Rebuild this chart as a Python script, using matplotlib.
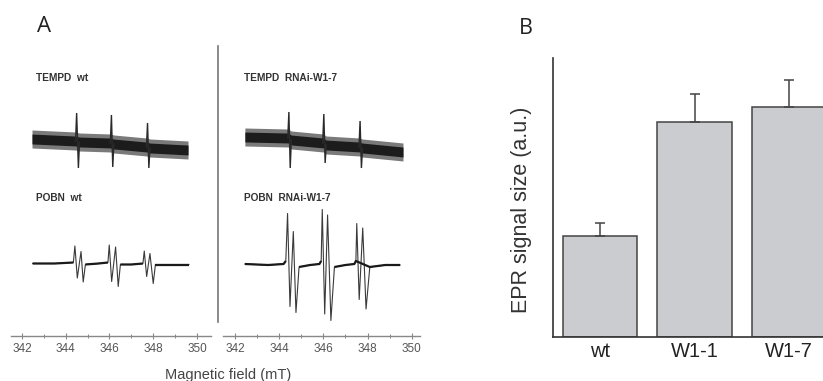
import numpy as np
import matplotlib
matplotlib.use("Agg")
import matplotlib.pyplot as plt
from matplotlib.lines import Line2D
from matplotlib.ticker import MultipleLocator

# ---------------- Panel A data (field in mT, signal in a.u. relative to trace start) -------------
tempd_wt_base_field = [342.46, 344.45, 344.62, 346.05, 346.20, 347.70, 347.85, 349.59]
tempd_wt_base_value = [0, -2, -3, -4, -5, -8, -9, -11]
tempd_wt_line_field = [344.50, 344.58, 346.09, 346.15, 347.74, 347.80]
tempd_wt_line_value = [26, -29, 24, -28, 16, -29]

tempd_rnai_base_field = [342.45, 344.40, 344.55, 346.00, 346.12, 347.64, 347.76, 349.60]
tempd_rnai_base_value = [0, -1, -3, -6, -8, -10, -11, -15]
tempd_rnai_line_field = [344.44, 344.50, 346.02, 346.08, 347.66, 347.72]
tempd_rnai_line_value = [25, -31, 23, -26, 16, -31]

tempd_noise = 9  # half-width of the noise envelope

pobn_wt_base_field = [342.49, 343.5, 344.35, 344.90, 345.50, 345.93, 346.50, 347.0,
                      347.53, 348.10, 348.9, 349.63]
pobn_wt_base_value = [0, 0, 1, -1, 0, 1, -1, -1, 0, -1, -1, -1]
pobn_wt_line_field = [344.42, 344.53, 344.70, 344.80, 345.99, 346.10, 346.28, 346.40,
                      347.59, 347.70, 347.85, 348.00]
pobn_wt_line_value = [17.5, -14.5, 12, -18.5, 18.5, -18, 16.5, -23, 12.5, -13, 10, -20]

pobn_rnai_base_field = [342.45, 343.5, 344.20, 344.30, 344.90, 345.40, 345.82, 345.90,
                        346.50, 347.0, 347.40, 347.47, 348.10, 348.8, 349.47]
pobn_rnai_base_value = [0, -1, 0, 3, -3, -1, 0, 3, -3, -1, 0, 3, -3, -1, -1]
pobn_rnai_line_field = [344.38, 344.49, 344.64, 344.76, 345.95, 346.06, 346.19, 346.34,
                        347.51, 347.62, 347.78, 347.93]
pobn_rnai_line_value = [50.5, -42.5, 32.5, -48.5, 54.5, -50, 49, -56.5, 40.5, -35.5, 36, -45]

trace_labels = ["TEMPD  wt", "TEMPD  RNAi-W1-7", "POBN  wt", "POBN  RNAi-W1-7"]
field_ticks = [342, 344, 346, 348, 350]
x_label = "Magnetic field (mT)"

# ---------------- Panel B data ----------------
bar_categories = ["wt", "W1-1", "W1-7"]
bar_values = [1.00, 2.13, 2.28]
bar_errors = [0.13, 0.28, 0.275]
y_label = "EPR signal size (a.u.)"

# ---------------- figure ----------------
W, H = 823, 381
fig = plt.figure(figsize=(W / 100, H / 100), dpi=100)
plt.rcParams['font.family'] = ['Liberation Sans', 'DejaVu Sans']


def rect(x0, y_top, x1, y_bot):
    return [x0 / W, 1 - y_bot / H, (x1 - x0) / W, (y_bot - y_top) / H]


def fx(x):
    return x / W


def fy(y):
    return 1 - y / H


axL = fig.add_axes(rect(11, 40, 211, 336))
axR = fig.add_axes(rect(223, 40, 420, 336))
axL.set_xlim(341.5, 350.64)
axR.set_xlim(341.46, 350.37)

TRACE = '#1a1a1a'


def draw_tempd(ax, bf, bv, lf, lv, off):
    bf = np.array(bf); bv = np.array(bv) + off
    ax.fill_between(bf, bv - tempd_noise, bv + tempd_noise, color='#7a7a7a', lw=0)
    ax.fill_between(bf, bv - tempd_noise * 0.55, bv + tempd_noise * 0.55, color='#1c1c1c', lw=0)
    for i in range(0, len(lf), 2):
        fu, fd = lf[i], lf[i + 1]
        b0 = np.interp(fu - 0.05, bf, bv)
        b1 = np.interp(fd + 0.05, bf, bv)
        ax.plot([fu - 0.05, fu, fd, fd + 0.05], [b0, lv[i] + off, lv[i + 1] + off, b1],
                color='#2a2a2a', lw=1.0, solid_joinstyle='miter')


def draw_pobn(ax, bf, bv, lf, lv, off):
    pts = sorted(list(zip(bf, bv)) + list(zip(lf, lv)))
    ax.plot([p[0] for p in pts], [p[1] + off for p in pts], color='#3a3a3a', lw=0.8)
    ranges = [(lf[i] - 0.04, lf[i + 3] + 0.06) for i in range(0, len(lf), 4)]
    seg = []
    segs = []
    for f, v in zip(bf, bv):
        if seg and any(seg[-1][0] < r[0] and f > r[1] for r in ranges):
            segs.append(seg)
            seg = []
        seg.append((f, v))
    segs.append(seg)
    for s in segs:
        ax.plot([p[0] for p in s], [p[1] + off for p in s], color=TRACE, lw=1.6,
                solid_capstyle='butt')


for ax in (axL, axR):
    ax.set_ylim(0, 296)
    for sp in ('top', 'left', 'right'):
        ax.spines[sp].set_visible(False)
    ax.spines['bottom'].set_color('#888888')
    ax.spines['bottom'].set_linewidth(1.0)
    ax.set_yticks([])
    ax.set_xticks(field_ticks)
    ax.set_xticklabels([str(t) for t in field_ticks])
    ax.xaxis.set_minor_locator(MultipleLocator(1))
    ax.tick_params(axis='x', which='major', direction='inout', length=4, width=0.8,
                   color='#888888', labelcolor='#555555', labelsize=8.5, pad=3)
    ax.tick_params(axis='x', which='minor', direction='inout', length=2.5, width=0.7,
                   color='#888888')
    ax.patch.set_alpha(0)

draw_tempd(axL, tempd_wt_base_field, tempd_wt_base_value,
           tempd_wt_line_field, tempd_wt_line_value, 197)
draw_tempd(axR, tempd_rnai_base_field, tempd_rnai_base_value,
           tempd_rnai_line_field, tempd_rnai_line_value, 199)
draw_pobn(axL, pobn_wt_base_field, pobn_wt_base_value,
          pobn_wt_line_field, pobn_wt_line_value, 72.5)
draw_pobn(axR, pobn_rnai_base_field, pobn_rnai_base_value,
          pobn_rnai_line_field, pobn_rnai_line_value, 72)

# trace labels
lab_kw = dict(fontsize=7.3, fontweight='bold', color='#333333', va='center', ha='left')
fig.text(fx(36), fy(78), trace_labels[0], **lab_kw)
fig.text(fx(244), fy(78), trace_labels[1], **lab_kw)
fig.text(fx(36), fy(198), trace_labels[2], **lab_kw)
fig.text(fx(244), fy(198), trace_labels[3], **lab_kw)

# separator
fig.add_artist(Line2D([fx(217.7), fx(217.7)], [fy(46), fy(322)], color='#777777', lw=1.2))

fig.text(fx(228), fy(375), x_label, ha='center', va='center', fontsize=10.5, color='#444444')

fig.text(fx(44), fy(27), "A", ha='center', va='center', fontsize=16, color='#222222',
         family=['Open Sans', 'DejaVu Sans'])
fig.text(fx(526), fy(28), "B", ha='center', va='center', fontsize=15.5, color='#222222',
         family=['Open Sans', 'DejaVu Sans'])

# ---------------- Panel B ----------------
axB = fig.add_axes(rect(553.3, 58, 823, 336.7))
xpos = np.arange(len(bar_categories))
axB.bar(xpos, bar_values, width=0.79, color='#cbcccf', edgecolor='#444444', linewidth=1.1,
        zorder=2)
axB.errorbar(xpos, bar_values, yerr=[np.zeros(len(bar_errors)), bar_errors], fmt='none',
             ecolor='#444444', elinewidth=1.1, capsize=3.3, capthick=1.1, zorder=3)
axB.set_xlim(-0.496, 2.358)
axB.set_ylim(0, 2.77)
for sp in ('top', 'right'):
    axB.spines[sp].set_visible(False)
for sp in ('left', 'bottom'):
    axB.spines[sp].set_color('#333333')
    axB.spines[sp].set_linewidth(1.2)
axB.set_yticks([])
axB.set_xticks(xpos)
axB.set_xticklabels(bar_categories)
axB.tick_params(axis='x', length=0, labelsize=14.5, labelcolor='#222222', pad=4)
axB.patch.set_alpha(0)
fig.text(fx(521.7), fy(210), y_label, rotation=90, ha='center', va='center', fontsize=15.5,
         color='#333333')

fig.savefig('out.png', dpi=100)
